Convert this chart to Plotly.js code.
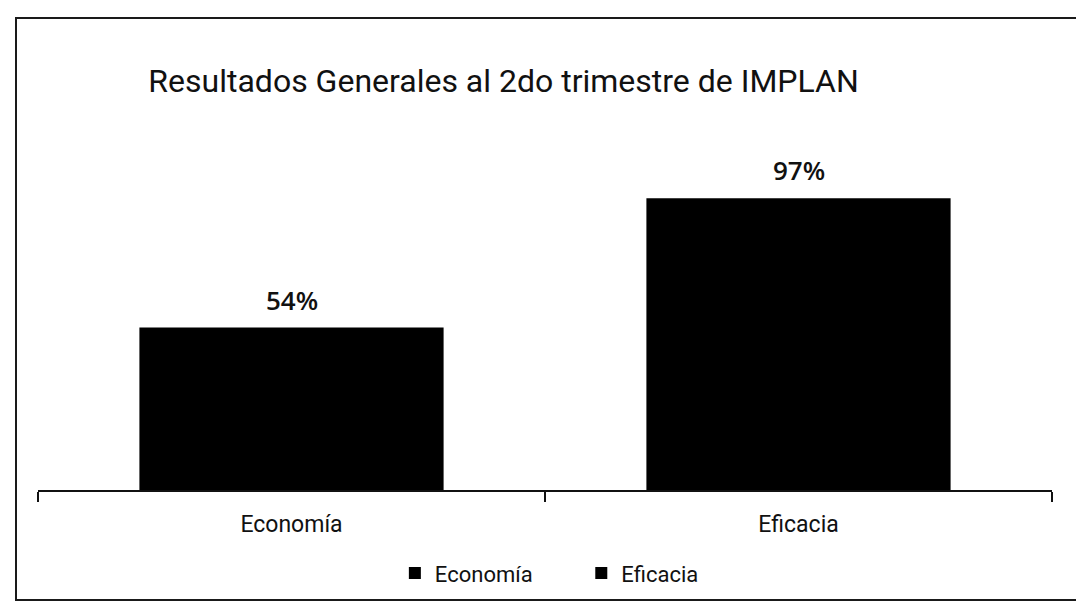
<!DOCTYPE html>
<html>
<head>
<meta charset="utf-8">
<script src="https://cdn.plot.ly/plotly-3.0.1.min.js"></script>
<style>
  html, body { margin: 0; padding: 0; background: #fff; }
  #frame {
    position: absolute; left: 15px; top: 17px; width: 1070px; height: 580px;
    border-top: 2px solid #1a1a1a; border-left: 2px solid #1a1a1a; border-bottom: 2px solid #1a1a1a;
  }
  #chart { position: absolute; left: 0; top: 0; width: 1076px; height: 611px; }
</style>
</head>
<body>
<div id="frame"></div>
<div id="chart"></div>
<script>
// datos del gráfico
var categorias = ['Economía', 'Eficacia'];
var valores = [54, 97];
var titulo = 'Resultados Generales al 2do trimestre de IMPLAN';

var narrow = 'Roboto, "Liberation Sans", sans-serif';

var data = [];
var etiquetas = [];
for (var i in categorias) {
    data.push({
        type: 'bar',
        name: categorias[i] + '        ',
        x: [categorias[i]],
        y: [valores[i]],
        width: 0.6,
        marker: { color: '#000000' },
        hoverinfo: 'none'
    });
    // etiqueta de valor sobre cada barra
    etiquetas.push({
        x: categorias[i],
        y: valores[i],
        xref: 'x', yref: 'y',
        text: valores[i] + '%',
        showarrow: false,
        yanchor: 'bottom',
        yshift: 8,
        font: { family: '"Open Sans", "DejaVu Sans", sans-serif', size: 26, color: '#111', weight: 600 }
    });
}

var layout = {
    width: 1076,
    height: 611,
    margin: { l: 38, r: 24, t: 150, b: 121 },
    paper_bgcolor: 'rgba(0,0,0,0)',
    plot_bgcolor: 'rgba(0,0,0,0)',
    barmode: 'overlay',
    title: {
        text: titulo,
        font: { family: narrow, size: 32, color: '#111' },
        x: 0.468, xanchor: 'center',
        y: 0.868, yanchor: 'middle'
    },
    annotations: etiquetas,
    xaxis: {
        type: 'category',
        showline: true,
        linecolor: '#111',
        linewidth: 2,
        ticks: 'outside',
        tickson: 'boundaries',
        ticklen: 10,
        tickwidth: 1.5,
        tickcolor: '#111',
        ticklabelstandoff: 12,
        tickfont: { family: narrow, size: 23, color: '#111' },
        showgrid: false,
        zeroline: false
    },
    yaxis: {
        range: [0, 113],
        visible: false,
        showgrid: false,
        zeroline: false
    },
    showlegend: true,
    legend: {
        orientation: 'h',
        x: 0.526, xanchor: 'center',
        y: -0.245, yanchor: 'middle',
        font: { family: narrow, size: 22, color: '#111' },
        itemwidth: 30,
        traceorder: 'normal'
    }
};

Plotly.newPlot('chart', data, layout, { displayModeBar: false, staticPlot: true });
</script>
</body>
</html>
